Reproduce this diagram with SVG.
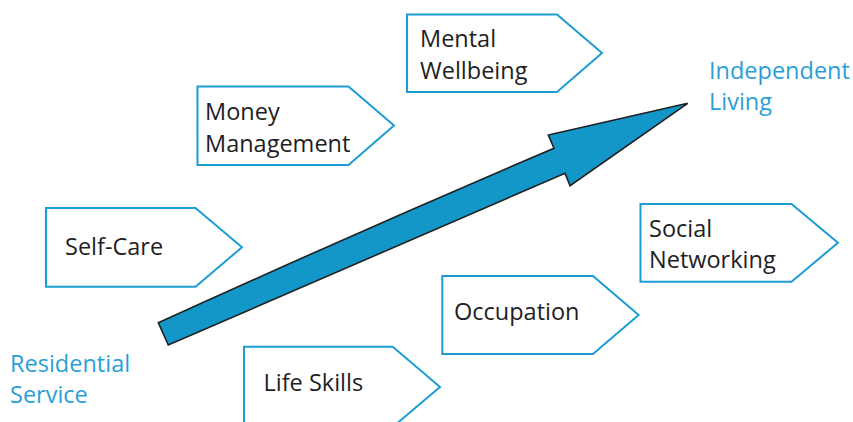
<svg xmlns="http://www.w3.org/2000/svg" width="853" height="422" viewBox="0 0 853 422">
  <style>
    .tag { fill: #ffffff; stroke: #1c9dd3; stroke-width: 2; stroke-linejoin: miter; }
    .lbl { font-family: "Open Sans", Lato, "Liberation Sans", sans-serif; font-size: 23.5px; fill: #1e1e24; }
    .end { font-family: "Open Sans", Lato, "Liberation Sans", sans-serif; font-size: 23.5px; fill: #2a9fd6; }
  </style>
  <rect width="853" height="422" fill="#ffffff"/>

  <!-- pentagon tags -->
  <g id="mental-wellbeing">
    <path class="tag" d="M407,14.5 H557 L602,53 L557,92 H407 Z"/>
    <text class="lbl" x="420" y="47">Mental</text>
    <text class="lbl" x="420" y="78.5">Wellbeing</text>
  </g>
  <g id="money-management">
    <path class="tag" d="M197.5,86.5 H348.5 L394,125.5 L348.5,165 H197.5 Z"/>
    <text class="lbl" x="205" y="120">Money</text>
    <text class="lbl" x="205" y="152">Management</text>
  </g>
  <g id="self-care">
    <path class="tag" d="M46,208 H195.5 L242,247.3 L195.5,286.7 H46 Z"/>
    <text class="lbl" x="65" y="255">Self-Care</text>
  </g>
  <g id="social-networking">
    <path class="tag" d="M640.5,204 H791.5 L838,242.8 L791.5,281.7 H640.5 Z"/>
    <text class="lbl" x="649" y="237">Social</text>
    <text class="lbl" x="649" y="268">Networking</text>
  </g>
  <g id="occupation">
    <path class="tag" d="M442.3,276 H593 L638.6,315 L593,354 H442.3 Z"/>
    <text class="lbl" x="454" y="320">Occupation</text>
  </g>
  <g id="life-skills">
    <path class="tag" d="M244,346.7 H392.7 L440,387 L392.7,427 H244 Z"/>
    <text class="lbl" x="263.5" y="391">Life Skills</text>
  </g>

  <!-- end-point labels -->
  <g id="residential-service">
    <text class="end" x="10" y="371.5">Residential</text>
    <text class="end" x="10" y="403">Service</text>
  </g>
  <g id="independent-living">
    <text class="end" x="709" y="78.5">Independent</text>
    <text class="end" x="709" y="110">Living</text>
  </g>

  <!-- progression arrow -->
  <g id="connectors">
    <path d="M158.3,322.7 Q360,231 554,148.3 L548.3,135 L687.7,103.3 L570,185.7 L565,173.3 Q370,257 168.3,345 Z"
          fill="#1397c9" stroke="#1f1f1f" stroke-width="1.6" stroke-linejoin="miter"/>
  </g>
</svg>
